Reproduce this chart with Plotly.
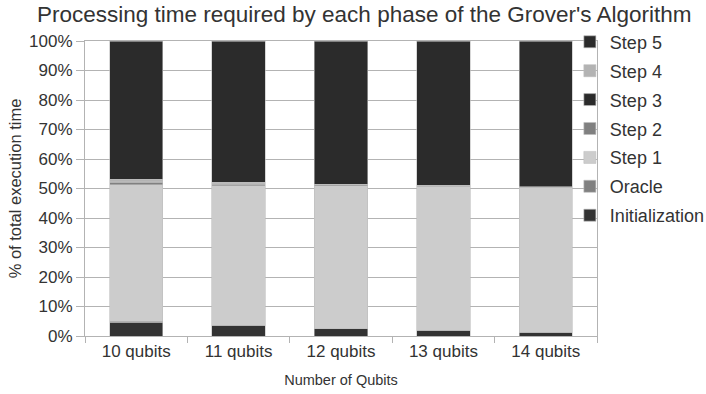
import plotly.graph_objects as go

categories = ["10 qubits", "11 qubits", "12 qubits", "13 qubits", "14 qubits"]
series_names = ["Initialization", "Oracle", "Step 1", "Step 2", "Step 3", "Step 4", "Step 5"]
initialization = [4.7, 3.4, 2.4, 1.8, 1.2]
oracle = [0.3, 0.2, 0.1, 0.1, 0.05]
step1 = [46.3, 47.4, 48.5, 48.7, 49.05]
step2 = [0.9, 0.5, 0.2, 0.2, 0.1]
step3 = [0.1, 0.05, 0.05, 0.05, 0.05]
step4 = [0.9, 0.5, 0.2, 0.2, 0.1]
step5 = [46.8, 47.95, 48.55, 48.95, 49.45]
y_ticks = [0, 10, 20, 30, 40, 50, 60, 70, 80, 90, 100]
y_tick_labels = ["0%", "10%", "20%", "30%", "40%", "50%", "60%", "70%", "80%", "90%", "100%"]

series_values = [initialization, oracle, step1, step2, step3, step4, step5]
colors = ["#333333", "#808080", "#cccccc", "#808080", "#2b2b2b", "#b3b3b3", "#2b2b2b"]

FONT = "Liberation Sans, Arial, sans-serif"
fig = go.Figure()
n = len(series_names)
for i, (name, vals, col) in enumerate(zip(series_names, series_values, colors)):
    fig.add_trace(go.Bar(
        name=name, x=categories, y=vals, legendgroup=name, legendrank=n - i,
        marker=dict(color=col, line=dict(color="#bdbdbd", width=0.6)),
    ))

fig.update_layout(
    width=706, height=394,
    barmode="stack", barnorm="percent", bargap=0.48,
    paper_bgcolor="white", plot_bgcolor="white",
    margin=dict(l=85, r=109, t=41, b=58, autoexpand=False),
    font=dict(family=FONT, color="#333333", size=17),
    title=dict(text="Processing time required by each phase of the Grover's Algorithm",
               x=0.516, xanchor="center", y=0.963, yanchor="middle",
               font=dict(size=22.5, color="#333333", family=FONT)),
    legend=dict(traceorder="grouped", tracegroupgap=2.5,
                x=0.947, xanchor="left", y=1.059, yanchor="top",
                font=dict(size=18, color="#333333"), bgcolor="rgba(0,0,0,0)",
                itemwidth=30, maxheight=300),
    showlegend=True,
)
fig.update_yaxes(
    range=[0, 100], tickmode="array", tickvals=y_ticks, ticktext=y_tick_labels,
    showgrid=True, gridcolor="#b3b3b3", gridwidth=1,
    showline=True, linecolor="#b3b3b3", mirror=True,
    ticks="outside", ticklen=8, tickcolor="#b3b3b3",
    tickfont=dict(size=17, color="#333333"),
    title=dict(text="% of total execution time", font=dict(size=16.5, color="#333333"), standoff=3),
    zeroline=False,
)
fig.update_xaxes(
    showline=True, linecolor="#b3b3b3", mirror=True,
    ticks="outside", tickson="boundaries", ticklen=6, tickcolor="#b3b3b3",
    tickfont=dict(size=17, color="#333333"),
    title=dict(text="Number of Qubits", font=dict(size=14.5, color="#333333"), standoff=14),
)

fig.write_html("out.html")
